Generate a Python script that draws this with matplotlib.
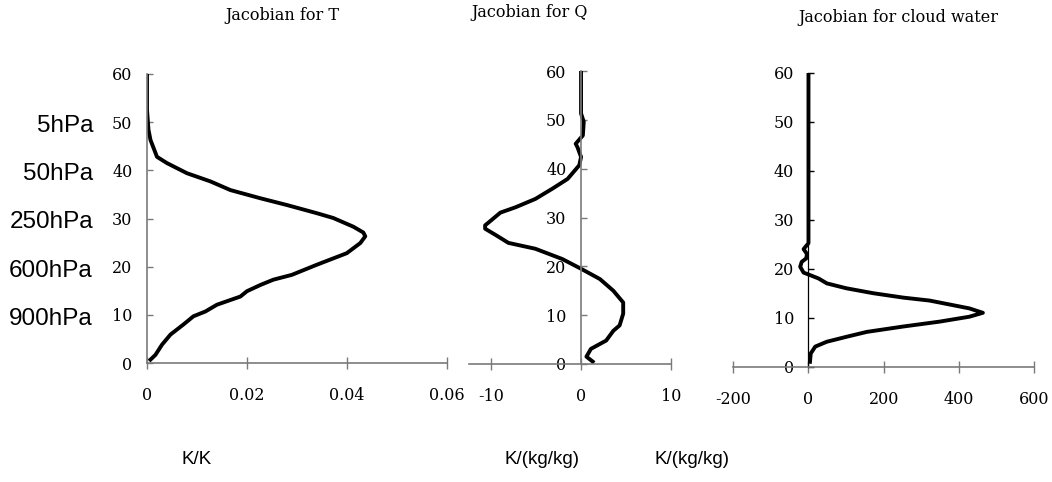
import matplotlib
matplotlib.use("Agg")
import matplotlib.pyplot as plt
import matplotlib.transforms as mtransforms

plt.rcParams["axes.unicode_minus"] = False

# Jacobian profiles (model level vs value)
t_lev = [0.7, 1.7, 3.8, 5.9, 8.0, 9.7, 10.7, 12.1, 13.8, 14.9, 16.2, 17.3, 18.3, 20.4,
         22.8, 24.9, 26.3, 27.1, 28.3, 30.1, 31.1, 32.8, 34.2, 35.9, 37.7, 39.4, 41.5,
         42.8, 46.3, 48.4, 52.5, 60]
t_jac = [0.0007, 0.0017, 0.003, 0.0047, 0.0073, 0.0093, 0.0117, 0.014, 0.0187, 0.02,
         0.0227, 0.0253, 0.029, 0.034, 0.04, 0.0427, 0.0437, 0.0433, 0.0413, 0.0373,
         0.034, 0.028, 0.0227, 0.0167, 0.0127, 0.008, 0.004, 0.002, 0.0007, 0.0003, 0, 0]

q_lev = [0.5, 1.5, 3.1, 4.8, 6.8, 7.9, 10.3, 12.6, 15.0, 17.4, 19.5, 21.5, 23.6, 24.8,
         26.5, 27.7, 28.4, 29.0, 31.0, 32.1, 33.8, 35.9, 37.9, 40.7, 42.4, 44.4, 45.1,
         46.8, 49.6, 51.3, 60]
q_jac = [1.3, 0.6, 1.1, 2.8, 3.6, 4.3, 4.7, 4.7, 3.6, 2.1, 0, -2.1, -5.1, -8.1, -9.6,
         -10.7, -10.7, -10.3, -9.0, -7.3, -5.1, -3.2, -1.5, -0.2, 0, -0.4, -0.6, 0.2,
         0.3, 0, 0]

c_lev = [1.0, 2.7, 4.1, 5.1, 6.1, 7.1, 8.2, 9.2, 10.2, 11.0, 11.9, 13.5, 14.1, 15.0,
         16.0, 17.0, 18.0, 18.7, 19.2, 20.4, 21.4, 22.1, 23.0, 24.0, 25.2, 60]
c_jac = [4, 6, 18, 49, 101, 155, 252, 349, 428, 464, 428, 322, 252, 172, 101, 49, 27,
         4, -13, -22, -18, -6, -4, -13, 0, 0]

titles = ["Jacobian for T", "Jacobian for Q", "Jacobian for cloud water"]
units = ["K/K", "K/(kg/kg)", "K/(kg/kg)"]
hpa_labels = ["5hPa", "50hPa", "250hPa", "600hPa", "900hPa"]
hpa_lev = [50, 40, 30, 20, 10]

y_ticks = [0, 10, 20, 30, 40, 50, 60]
t_ticks = [0, 0.02, 0.04, 0.06]
t_ticklabels = ["0", "0.02", "0.04", "0.06"]
q_ticks = [-10, 0, 10]
c_ticks = [-200, 0, 200, 400, 600]

W, H = 1052, 482
fig = plt.figure(figsize=(W / 100, H / 100), dpi=100)
fig.patch.set_facecolor("white")

grey = "#7a7a7a"
serif = "DejaVu Serif"


def px_rect(x0, x1, y_top, y_bot):
    return [x0 / W, 1 - y_bot / H, (x1 - x0) / W, (y_bot - y_top) / H]


def style(ax, xticks, xlabels=None, yline="grey"):
    for s in ["top", "right"]:
        ax.spines[s].set_visible(False)
    ax.spines["bottom"].set_color(grey)
    ax.spines["bottom"].set_linewidth(1.2)
    if yline == "black":
        ax.spines["left"].set_color("black")
        ax.spines["left"].set_linewidth(0.9)
    else:
        ax.spines["left"].set_color(grey)
        ax.spines["left"].set_linewidth(1.2)
    ax.set_ylim(0, 60)
    ax.set_yticks(y_ticks)
    ax.set_xticks(xticks)
    if xlabels is not None:
        ax.set_xticklabels(xlabels)
    ax.tick_params(axis="y", direction="in", length=4.5, width=1.0, pad=10.5,
                   color=grey if yline != "black" else "black")
    ax.tick_params(axis="x", direction="inout", length=8.5, width=1.0, pad=13,
                   color=grey)
    for lab in ax.get_xticklabels() + ax.get_yticklabels():
        lab.set_fontfamily(serif)
        lab.set_fontsize(11.5)
    ax.patch.set_alpha(0)


ax1 = fig.add_axes(px_rect(147, 446.7, 74, 363))
ax1.plot(t_jac, t_lev, color="black", lw=2.8, solid_joinstyle="round")
ax1.set_xlim(0, 0.06)
style(ax1, t_ticks, t_ticklabels)

ax2 = fig.add_axes(px_rect(469, 670.7, 71, 364))
ax2.plot(q_jac, q_lev, color="black", lw=2.8, solid_joinstyle="round")
ax2.set_xlim(-12.5, 10)
ax2.spines["left"].set_position(("data", 0))
style(ax2, q_ticks)

ax3 = fig.add_axes(px_rect(733.3, 1034, 72.7, 366.7))
ax3.plot(c_jac, c_lev, color="black", lw=2.8, solid_joinstyle="round")
ax3.set_xlim(-200, 600)
ax3.spines["left"].set_position(("data", 0))
style(ax3, c_ticks, yline="black")

# panel titles and units
title_pos = [(282, 15), (530, 12.7), (898, 18)]
for t, (x, y) in zip(titles, title_pos):
    fig.text(x / W, 1 - y / H, t, ha="center", va="center",
             fontfamily=serif, fontsize=11.5)

unit_pos = [(197, 460), (542, 460), (692, 460)]
for u, (x, y) in zip(units, unit_pos):
    fig.text(x / W, 1 - y / H, u, ha="center", va="center",
             fontfamily="Liberation Sans", fontsize=13.5)

# pressure labels on the left
trans = mtransforms.blended_transform_factory(fig.transFigure, ax1.transData)
for lab, lev in zip(hpa_labels, hpa_lev):
    ax1.text(93 / W, lev - 0.8, lab, transform=trans, ha="right", va="center",
             fontfamily="Liberation Sans", fontsize=17.5, clip_on=False)

fig.savefig("out.png", dpi=100)
